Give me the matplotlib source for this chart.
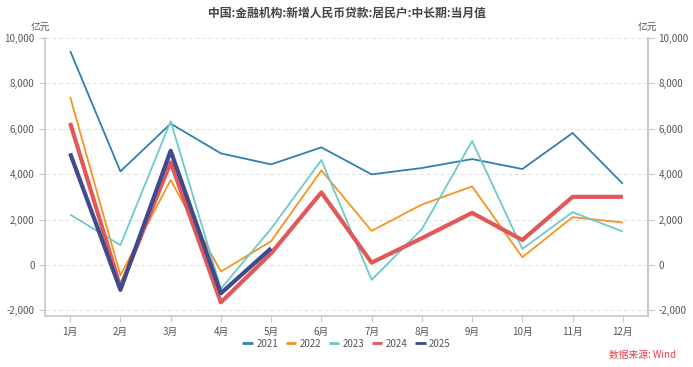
import matplotlib
matplotlib.use("Agg")
import matplotlib.pyplot as plt
from matplotlib.ticker import FuncFormatter

plt.rcParams['font.family'] = ['Noto Sans CJK SC', 'DejaVu Sans']

months = ['1月', '2月', '3月', '4月', '5月', '6月', '7月', '8月', '9月', '10月', '11月', '12月']
s2021 = [9430, 4120, 6225, 4915, 4430, 5180, 3990, 4270, 4665, 4225, 5815, 3575]
s2022 = [7400, -455, 3740, -295, 1045, 4165, 1500, 2660, 3460, 340, 2105, 1870]
s2023 = [2220, 870, 6330, -1050, 1600, 4620, -660, 1575, 5460, 705, 2325, 1470]
s2024 = [6255, -980, 4520, -1650, 515, 3195, 100, 1180, 2295, 1100, 3000, 3000]
s2025 = [4915, -1100, 5030, -1250, 735]
yticks = [-2000, 0, 2000, 4000, 6000, 8000, 10000]

series = [
    ('2021', s2021, '#2f80ad', 1.3),
    ('2022', s2022, '#f7931e', 1.3),
    ('2023', s2023, '#6ccaca', 1.3),
    ('2024', s2024, '#e05858', 3.0),
    ('2025', s2025, '#3f4b8c', 3.0),
]

fig = plt.figure(figsize=(6.93, 3.67), dpi=100)
ax = fig.add_axes([0.065, 0.139, 0.870, 0.7575])
x = list(range(len(months)))
for name, vals, c, lw in series:
    ax.plot(x[:len(vals)], vals, color=c, lw=lw, label=name, solid_capstyle='butt')

ax.set_xlim(-0.5, 11.5)
ax.set_ylim(-2250, 10000)
ax.set_xticks(x)
ax.set_xticklabels(months)
ax.set_yticks(yticks)
fmt = FuncFormatter(lambda v, p: f'{int(v):,}')
ax.yaxis.set_major_formatter(fmt)
ax.grid(axis='y', color='#e0e0e0', ls=(0, (4, 3)), lw=0.7)
ax.set_axisbelow(True)

ax.spines['top'].set_visible(False)
for s in ['left', 'bottom', 'right']:
    ax.spines[s].set_color('#c8c8c8')
    ax.spines[s].set_linewidth(1.2)
ax.tick_params(axis='both', colors='#c8c8c8', labelcolor='#555555', labelsize=7, length=4, width=0.8)
ax.tick_params(axis='x', pad=4)

ax2 = ax.twinx()
ax2.set_ylim(ax.get_ylim())
ax2.set_yticks(yticks)
ax2.yaxis.set_major_formatter(fmt)
for s in ['top', 'left', 'bottom']:
    ax2.spines[s].set_visible(False)
ax2.spines['right'].set_color('#c8c8c8')
ax2.spines['right'].set_linewidth(1.2)
ax2.tick_params(axis='y', colors='#c8c8c8', labelcolor='#555555', labelsize=7, length=4, width=0.8)

fig.text(0.058, 0.924, '亿元', fontsize=7, color='#555555', ha='center', va='center')
fig.text(0.934, 0.924, '亿元', fontsize=7, color='#555555', ha='center', va='center')
fig.text(0.5, 0.965, '中国:金融机构:新增人民币贷款:居民户:中长期:当月值', fontsize=8.5,
         fontweight='bold', color='#444444', ha='center', va='center')

leg = ax.legend(loc='center', bbox_to_anchor=(0.5, -0.1), ncol=5, frameon=False,
                fontsize=7, handlelength=1.1, handletextpad=0.35, columnspacing=0.75,
                borderpad=0, borderaxespad=0)
for h in leg.get_lines():
    h.set_linewidth(2)
for t in leg.get_texts():
    t.set_color('#555555')

fig.text(0.975, 0.033, '数据来源: Wind', fontsize=7, color='#e8404a', ha='right', va='center')

fig.savefig('out.png', dpi=100)
